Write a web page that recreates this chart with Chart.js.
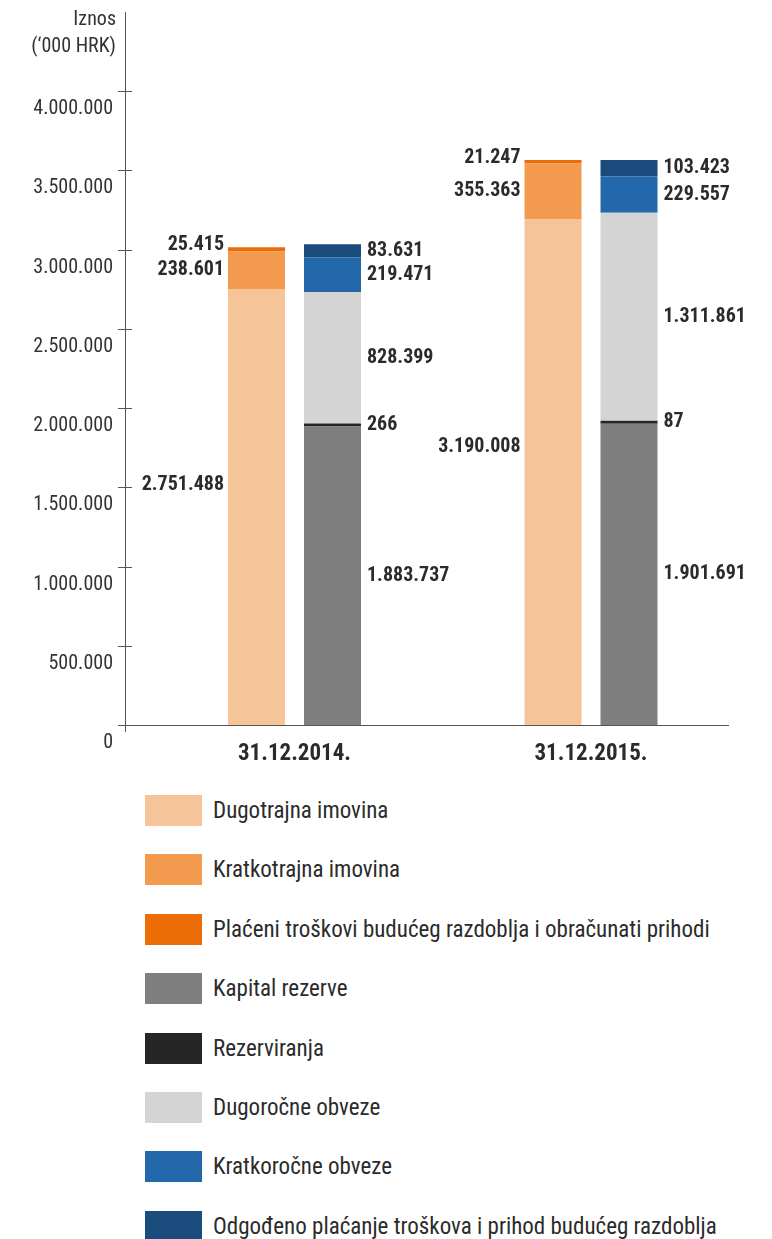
<!DOCTYPE html>
<html>
<head>
<meta charset="utf-8">
<script src="https://cdn.jsdelivr.net/npm/chart.js@4"></script>
<style>
    body { margin: 0; background: #fff; }
    #wrap { position: relative; width: 772px; height: 780px; }
    #legend { list-style: none; margin: 0; padding: 15px 0 0 145px; }
    #legend li { display: flex; align-items: center; height: 31px; margin-bottom: 28.4px; }
    #legend .box { width: 57px; height: 31px; flex: none; }
    #legend .txt { margin-left: 11px; font: 23px "Roboto Condensed", "Liberation Sans Narrow", "DejaVu Sans Condensed", sans-serif; color: #2b2b2b; white-space: nowrap; }
</style>
</head>
<body>
<div id="wrap"><canvas id="bilanca"></canvas></div>
<ul id="legend"></ul>
<script>
const categories = ['31.12.2014.', '31.12.2015.'];

// aktiva
const dugotrajna = [2751488, 3190008];
const kratkotrajna = [238601, 355363];
const placeni = [25415, 21247];

// pasiva
const kapital = [1883737, 1901691];
const rezerviranja = [266, 87];
const dugorocne = [828399, 1311861];
const kratkorocne = [219471, 229557];
const odgodeno = [83631, 103423];

const yTicks = [0, 500000, 1000000, 1500000, 2000000, 2500000, 3000000, 3500000, 4000000];

const narrow = '"Roboto Condensed", "Liberation Sans Narrow", "DejaVu Sans Condensed", sans-serif';
const textColor = '#2b2b2b';
const axisColor = '#555';

function fmt(v) {
    return v.toLocaleString('de-DE');
}

function points(values) {
    return values.map((v, i) => ({ x: i, y: v }));
}

// labelPos: where the value label sits, as a share of the segment height from its top
let datasets = [
    { label: 'Dugotrajna imovina', data: points(dugotrajna), stack: 'aktiva', backgroundColor: '#f6c499', labelPos: 0.45 },
    { label: 'Kratkotrajna imovina', data: points(kratkotrajna), stack: 'aktiva', backgroundColor: '#f29a4d' },
    { label: 'Plaćeni troškovi budućeg razdoblja i obračunati prihodi', data: points(placeni), stack: 'aktiva', backgroundColor: '#ec6c05', labelPos: -0.5 },
    { label: 'Kapital rezerve', data: points(kapital), stack: 'pasiva', backgroundColor: '#7f7f7f' },
    { label: 'Rezerviranja', data: points(rezerviranja), stack: 'pasiva', backgroundColor: '#262626', minBarLength: 3 },
    { label: 'Dugoročne obveze', data: points(dugorocne), stack: 'pasiva', backgroundColor: '#d4d4d4' },
    { label: 'Kratkoročne obveze', data: points(kratkorocne), stack: 'pasiva', backgroundColor: '#2368ab' },
    { label: 'Odgođeno plaćanje troškova i prihod budućeg razdoblja', data: points(odgodeno), stack: 'pasiva', backgroundColor: '#1a4b7d' }
];

// tick marks crossing the y axis, axis title and the value labels next to the bars
const decorations = {
    id: 'decorations',
    afterDraw(chart) {
        let ctx = chart.ctx;
        let y = chart.scales.y;
        let left = chart.chartArea.left;

        ctx.save();
        ctx.strokeStyle = axisColor;
        ctx.lineWidth = 1;
        ctx.beginPath();
        yTicks.forEach(t => {
            let py = Math.round(y.getPixelForValue(t)) + 0.5;
            ctx.moveTo(left - 7, py);
            ctx.lineTo(left + 7, py);
        });
        ctx.moveTo(left + 0.5, chart.chartArea.bottom);
        ctx.lineTo(left + 0.5, chart.chartArea.bottom + 7);
        ctx.stroke();

        ctx.fillStyle = '#333';
        ctx.font = '20px ' + narrow;
        ctx.textAlign = 'right';
        ctx.textBaseline = 'middle';
        ctx.fillText('Iznos', left - 9, 20);
        ctx.fillText('(‘000 HRK)', left - 9, 47);

        ctx.fillStyle = textColor;
        ctx.font = 'bold 20px ' + narrow;
        chart.data.datasets.forEach((ds, di) => {
            let meta = chart.getDatasetMeta(di);
            meta.data.forEach((bar, i) => {
                let pos = ds.labelPos === undefined ? 0.5 : ds.labelPos;
                let top = Math.min(bar.y, bar.base);
                let h = Math.abs(bar.base - bar.y);
                let ly = top + h * pos;
                let text = fmt(ds.data[i].y);
                if (ds.stack === 'aktiva') {
                    ctx.textAlign = 'right';
                    ctx.fillText(text, bar.x - bar.width / 2 - 4, ly);
                } else {
                    ctx.textAlign = 'left';
                    ctx.fillText(text, bar.x + bar.width / 2 + 6, ly);
                }
            });
        });
        ctx.restore();
    }
};

let ctx = document.getElementById('bilanca').getContext('2d');
let myChart = new Chart(ctx, {
    type: 'bar',
    data: { datasets: datasets },
    options: {
        responsive: true,
        maintainAspectRatio: false,
        animation: false,
        categoryPercentage: 0.5126,
        barPercentage: 0.75,
        layout: { padding: { top: 12, right: 44, left: 0, bottom: 0 } },
        plugins: {
            legend: { display: false },
            tooltip: { enabled: false }
        },
        scales: {
            x: {
                type: 'linear',
                stacked: true,
                offset: false,
                min: -0.5717,
                max: 1.462,
                afterFit: s => {
                    s.height = 55;
                    s.paddingLeft = 0;
                    s.paddingRight = 0;
                },
                grid: { display: false, drawTicks: false, offset: false },
                border: { display: true, color: axisColor, width: 1 },
                ticks: {
                    stepSize: 1,
                    includeBounds: false,
                    padding: 15,
                    color: textColor,
                    font: { family: narrow, size: 23, weight: 'bold' },
                    callback: v => categories[v] || ''
                }
            },
            y: {
                stacked: true,
                min: 0,
                max: 4500000,
                afterFit: s => {
                    s.width = 125;
                    s.paddingTop = 0;
                    s.paddingBottom = 0;
                },
                grid: { display: false, drawTicks: false },
                border: { display: true, color: axisColor, width: 1 },
                ticks: {
                    stepSize: 500000,
                    padding: 12,
                    labelOffset: 18,
                    color: '#333',
                    font: { family: narrow, size: 20 },
                    callback: v => (v > 4000000 ? '' : fmt(v))
                }
            }
        }
    },
    plugins: [decorations]
});

// legend list below the chart, one row per dataset
let legend = document.getElementById('legend');
myChart.data.datasets.forEach(ds => {
    let li = document.createElement('li');
    let box = document.createElement('span');
    box.className = 'box';
    box.style.background = ds.backgroundColor;
    let txt = document.createElement('span');
    txt.className = 'txt';
    txt.textContent = ds.label;
    li.appendChild(box);
    li.appendChild(txt);
    legend.appendChild(li);
});
</script>
</body>
</html>
